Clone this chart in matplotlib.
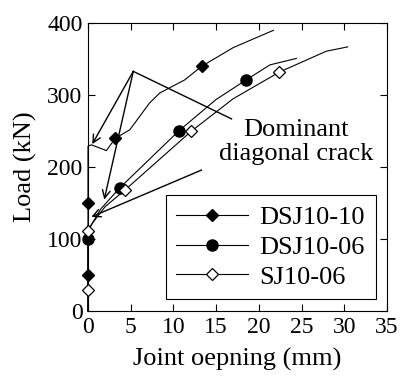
import matplotlib
matplotlib.use('Agg')
import matplotlib.pyplot as plt

plt.rcParams['font.family'] = 'serif'
plt.rcParams['font.serif'] = ['Liberation Serif', 'DejaVu Serif']

# joint opening (mm) and load (kN)
dsj1010_x = [0, 0, 0, 0, 0.4, 2.15, 3.2, 4.9, 7.2, 8.4, 11.3, 13.3, 17.0, 21.7]
dsj1010_y = [0, 50, 150, 229, 231, 223, 240, 252, 289, 303, 321, 340, 366, 390]
dsj1010_mx = [0, 0, 3.2, 13.3]
dsj1010_my = [50, 150, 240, 340]

dsj1006_x = [0, 0, 0.3, 1.5, 3.7, 10.6, 15.0, 18.5, 21.3, 24.4]
dsj1006_y = [0, 100, 118, 142, 171, 250, 294, 321, 342, 351]
dsj1006_mx = [0, 3.7, 10.6, 18.5]
dsj1006_my = [100, 171, 250, 321]

sj1006_x = [0, 0, 0, 0.5, 2.0, 4.3, 12.1, 17.0, 22.4, 27.9, 30.4]
sj1006_y = [0, 30, 111, 122, 145, 168, 250, 295, 332, 361, 367]
sj1006_mx = [0, 0, 4.3, 12.1, 22.4]
sj1006_my = [30, 111, 168, 250, 332]

# annotation geometry (data units)
apex = (5.3, 333)
text_end = (16.8, 267)
arrow_tips = [(0.5, 232), (1.9, 155)]
lower_start = (13.3, 196)
lower_tip = (0.4, 131)

fig = plt.figure(figsize=(4, 3.79), dpi=100)
ax = fig.add_axes([0.22, 0.179, 0.7475, 0.76])

lw = 0.8
ax.plot(dsj1010_x, dsj1010_y, color='black', lw=lw, clip_on=False)
ax.plot(dsj1006_x, dsj1006_y, color='black', lw=lw, clip_on=False)
ax.plot(sj1006_x, sj1006_y, color='black', lw=lw, clip_on=False)
ax.plot(dsj1010_mx, dsj1010_my, ls='none', marker='D', ms=6, mfc='black', mec='black',
        clip_on=False, zorder=3)
ax.plot(dsj1006_mx, dsj1006_my, ls='none', marker='o', ms=8, mfc='black', mec='black',
        clip_on=False, zorder=3)
ax.plot(sj1006_mx, sj1006_my, ls='none', marker='D', ms=6, mfc='white', mec='black', mew=0.9,
        clip_on=False, zorder=3)

# legend proxies
h1, = ax.plot([], [], color='black', lw=lw, marker='D', ms=6, mfc='black', mec='black')
h2, = ax.plot([], [], color='black', lw=lw, marker='o', ms=8, mfc='black', mec='black')
h3, = ax.plot([], [], color='black', lw=lw, marker='D', ms=6, mfc='white', mec='black', mew=0.9)

# annotation lines
ax.plot([text_end[0], apex[0]], [text_end[1], apex[1]], color='black', lw=1.0)
for tip in arrow_tips:
    ax.annotate('', xy=tip, xytext=apex,
                arrowprops=dict(arrowstyle='->', color='black', lw=1.0,
                                shrinkA=0, shrinkB=0, mutation_scale=14))
ax.annotate('', xy=lower_tip, xytext=lower_start,
            arrowprops=dict(arrowstyle='->', color='black', lw=1.0,
                            shrinkA=0, shrinkB=0, mutation_scale=14))

ax.text(24.4, 235, 'Dominant\ndiagonal crack', ha='center', va='center',
        fontsize=19, linespacing=1.1)

ax.set_xlim(0, 35)
ax.set_ylim(0, 400)
ax.set_xticks(range(0, 36, 5))
ax.set_yticks(range(0, 401, 100))
ax.tick_params(direction='in', length=5, width=0.8, top=True, right=True,
               labelsize=17, pad=4)
for s in ax.spines.values():
    s.set_linewidth(0.8)

ax.set_xlabel('Joint oepning (mm)', fontsize=19, labelpad=7)
ax.set_ylabel('Load (kN)', fontsize=19, labelpad=7)

leg = ax.legend([h1, h2, h3], ['DSJ10-10', 'DSJ10-06', 'SJ10-06'],
                loc='lower right', bbox_to_anchor=(0.962, 0.042), borderaxespad=0,
                fontsize=19, handlelength=2.7, handletextpad=0.45,
                labelspacing=0.23, borderpad=0.4, fancybox=False, framealpha=1,
                edgecolor='black')
leg.get_frame().set_linewidth(0.8)

fig.savefig('out.png', dpi=100)
